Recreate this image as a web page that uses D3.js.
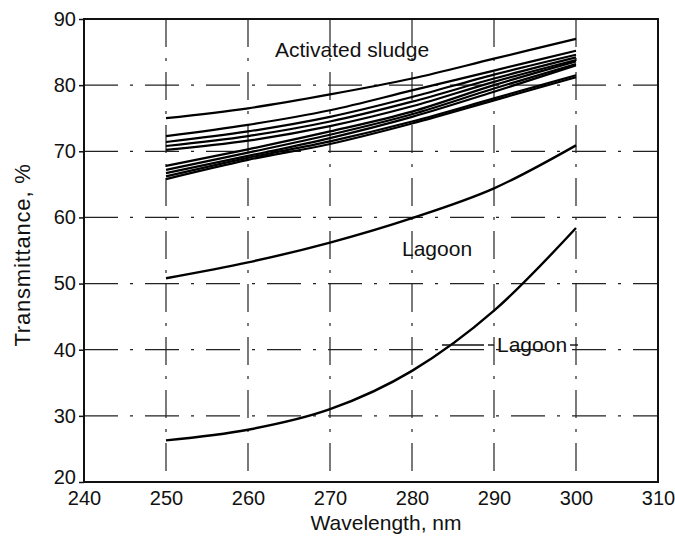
<!DOCTYPE html>
<html><head><meta charset="utf-8">
<script src="https://cdn.jsdelivr.net/npm/d3@7/dist/d3.min.js"></script>
<style>body{margin:0;background:#fff}svg{display:block}text{font-family:"Liberation Sans",Arial,sans-serif;fill:#111}</style>
</head><body><svg id="c" width="675" height="542"></svg>
<script>
const wavelengths = [250, 260, 270, 280, 290, 300];
const sludge1 = [75.0, 76.5, 78.6, 81.0, 84.0, 87.0];
const sludge2 = [72.3, 74.0, 76.2, 79.2, 82.2, 85.2];
const sludge3 = [71.4, 73.0, 75.2, 78.2, 81.6, 84.6];
const sludge4 = [70.8, 72.3, 74.5, 77.5, 81.0, 84.2];
const sludge5 = [70.2, 71.6, 73.8, 76.8, 80.5, 83.8];
const sludge6 = [67.8, 70.3, 73.0, 76.0, 80.0, 83.6];
const sludge7 = [67.2, 69.8, 72.5, 75.6, 79.5, 83.2];
const sludge8 = [66.7, 69.3, 72.0, 75.2, 79.0, 83.0];
const sludge9 = [66.2, 69.0, 71.5, 74.5, 78.0, 81.5];
const sludge10 = [65.8, 68.7, 71.1, 74.2, 77.7, 81.2];
const lagoonUpper = [50.8, 53.2, 56.2, 59.9, 64.4, 70.9];
const lagoonLower = [26.3, 27.9, 31.0, 36.8, 45.9, 58.4];
const xTicks = [240, 250, 260, 270, 280, 290, 300, 310];
const yTicks = [20, 30, 40, 50, 60, 70, 80, 90];

const sludgeSeries = [sludge1, sludge2, sludge3, sludge4, sludge5, sludge6, sludge7, sludge8, sludge9, sludge10];

const svg = d3.select("#c");
const L = 84, R = 658, T = 19, B = 482;
const x = d3.scaleLinear().domain([240, 310]).range([L, R]);
const y = d3.scaleLinear().domain([20, 90]).range([B, T]);

// grid (dash-dot)
const g = svg.append("g");
g.selectAll(".gx").data(xTicks.slice(1, -1)).join("line")
  .attr("x1", d => x(d)).attr("x2", d => x(d)).attr("y1", T).attr("y2", B)
  .attr("stroke", "#222").attr("stroke-width", 1.2).attr("stroke-dasharray", "28,11,3,11");
g.selectAll(".gy").data(yTicks.slice(1, -1)).join("line")
  .attr("x1", L).attr("x2", R).attr("y1", d => y(d)).attr("y2", d => y(d))
  .attr("stroke", "#222").attr("stroke-width", 1.2).attr("stroke-dasharray", "34,12,3,12");

// axes
const xAxis = d3.axisBottom(x).tickValues(xTicks).tickSize(0);
const yAxis = d3.axisLeft(y).tickValues(yTicks).tickSize(5).tickPadding(3);
const ax = svg.append("g").attr("transform", `translate(0,${B})`).call(xAxis);
const ay = svg.append("g").attr("transform", `translate(${L},0)`).call(yAxis);
[ax, ay].forEach(a => {
  a.select(".domain").remove();
  a.selectAll("text").attr("font-size", 20).attr("fill", "#111");
  a.selectAll("line").attr("stroke", "#111").attr("stroke-width", 1.5);
});
ax.selectAll("text").attr("y", 9).attr("dy", "0.71em");
ay.selectAll("text").filter(d => d === 20).attr("dy", "0.05em");

// frame
svg.append("rect").attr("x", L).attr("y", T).attr("width", R - L).attr("height", B - T)
  .attr("fill", "none").attr("stroke", "#111").attr("stroke-width", 2);

// curves
const line = d3.line().x((d, i) => x(wavelengths[i])).y(d => y(d)).curve(d3.curveMonotoneX);
svg.append("g").selectAll("path").data(sludgeSeries).join("path")
  .attr("d", line).attr("fill", "none").attr("stroke", "#000").attr("stroke-width", 2.2);
svg.append("g").selectAll("path").data([lagoonUpper, lagoonLower]).join("path")
  .attr("d", line).attr("fill", "none").attr("stroke", "#000").attr("stroke-width", 2.4);

// labels
svg.append("text").attr("x", 275).attr("y", 57).attr("font-size", 21).text("Activated sludge");
svg.append("text").attr("x", 402).attr("y", 256).attr("font-size", 21).text("Lagoon");
svg.append("line").attr("x1", 442).attr("x2", 484).attr("y1", 345).attr("y2", 345)
  .attr("stroke", "#111").attr("stroke-width", 1.4);
svg.append("line").attr("x1", 488).attr("x2", 494).attr("y1", 345).attr("y2", 345)
  .attr("stroke", "#111").attr("stroke-width", 1.4);
svg.append("text").attr("x", 497).attr("y", 352).attr("font-size", 21).text("Lagoon");
svg.append("line").attr("x1", 570).attr("x2", 578).attr("y1", 345).attr("y2", 345)
  .attr("stroke", "#111").attr("stroke-width", 1.4);

// axis titles
svg.append("text").attr("x", 386).attr("y", 530).attr("text-anchor", "middle")
  .attr("font-size", 21).text("Wavelength, nm");
svg.append("text").attr("transform", `translate(30,255) rotate(-90)`)
  .attr("text-anchor", "middle").attr("font-size", 22).attr("letter-spacing", 0.8).text("Transmittance, %");
</script></body></html>
